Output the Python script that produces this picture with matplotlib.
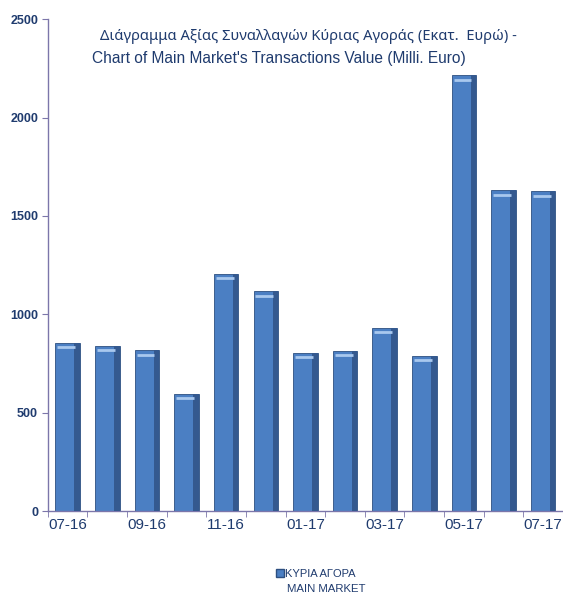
import numpy as np
import matplotlib
matplotlib.use('Agg')
import matplotlib.pyplot as plt
from matplotlib import font_manager

# monthly values of the main market (Milli. Euro)
months = ['07-16', '08-16', '09-16', '10-16', '11-16', '12-16', '01-17',
          '02-17', '03-17', '04-17', '05-17', '06-17', '07-17']
values = [855, 840, 816, 595, 1204, 1116, 803, 815, 930, 788, 2215, 1630, 1625]
yticks = [0, 500, 1000, 1500, 2000, 2500]

title_gr = 'Διάγραμμα Αξίας Συναλλαγών Κύριας Αγοράς (Εκατ.  Ευρώ) -'
title_en = "Chart of Main Market's Transactions Value (Milli. Euro)"
legend_gr = 'ΚΥΡΙΑ ΑΓΟΡΑ'
legend_en = 'MAIN MARKET'

names = set(f.name for f in font_manager.fontManager.ttflist)
narrow = 'Liberation Sans Narrow' if 'Liberation Sans Narrow' in names else 'Liberation Sans'

txt_col = '#1f3b6e'
axis_col = '#7c76aa'
bar_col = '#4b7fc3'

fig = plt.figure(figsize=(5.63, 5.94), dpi=100)
ax = fig.add_axes([0.085, 0.1397, 0.915, 0.828])

x = np.arange(len(months))
w = 0.62
ax.bar(x, values, width=w, color=bar_col, edgecolor='#2d4f80', linewidth=0.6, zorder=2)
# darker shading on the right side of each bar
ax.bar(x + w / 2 - 0.07, values, width=0.14, color='#34598f', linewidth=0, zorder=3)
# light highlight near the top
ax.hlines(np.array(values) - 22, x - w / 2 + 0.05, x + w / 2 - 0.12,
          color='#a9c8ee', linewidth=2, zorder=4)

ax.set_xlim(-0.5, len(months) - 0.5)
ax.set_ylim(0, 2500)
ax.set_yticks(yticks)
ax.set_yticklabels([str(v) for v in yticks], fontsize=9, fontweight='bold',
                   color=txt_col, family='Liberation Sans')
ax.set_xticks(x)
ax.set_xticklabels([m if i % 2 == 0 else '' for i, m in enumerate(months)],
                   fontsize=11, color=txt_col, family=narrow)
ax.set_xticks(np.arange(len(months) + 1) - 0.5, minor=True)
ax.tick_params(axis='x', which='major', length=0, pad=5)
ax.tick_params(axis='x', which='minor', length=4, color=axis_col)
ax.tick_params(axis='y', length=4, color=axis_col, pad=3)

for s in ['top', 'right']:
    ax.spines[s].set_visible(False)
for s in ['left', 'bottom']:
    ax.spines[s].set_color(axis_col)
    ax.spines[s].set_linewidth(1.0)

fig.text(100 / 563, 1 - 37 / 594, title_gr, fontsize=10.6, color=txt_col,
         family='Noto Sans', va='center', ha='left')
fig.text(92 / 563, 1 - 58 / 594, title_en, fontsize=11.2, color=txt_col,
         family=narrow, va='center', ha='left')

fig.legend(handles=[plt.Rectangle((0, 0), 1, 1, color=bar_col, ec='#2d4f80')],
           labels=[legend_gr], loc='center left', bbox_to_anchor=(266 / 563, 1 - 574 / 594),
           frameon=False, handlelength=0.7, handleheight=0.7, handletextpad=0.1,
           prop={'family': narrow, 'size': 8}, labelcolor=txt_col)
fig.text(287 / 563, 1 - 589 / 594, legend_en, fontsize=8.2, color=txt_col,
         family=narrow, va='center', ha='left')

fig.savefig('out.png', dpi=100, facecolor='white')
